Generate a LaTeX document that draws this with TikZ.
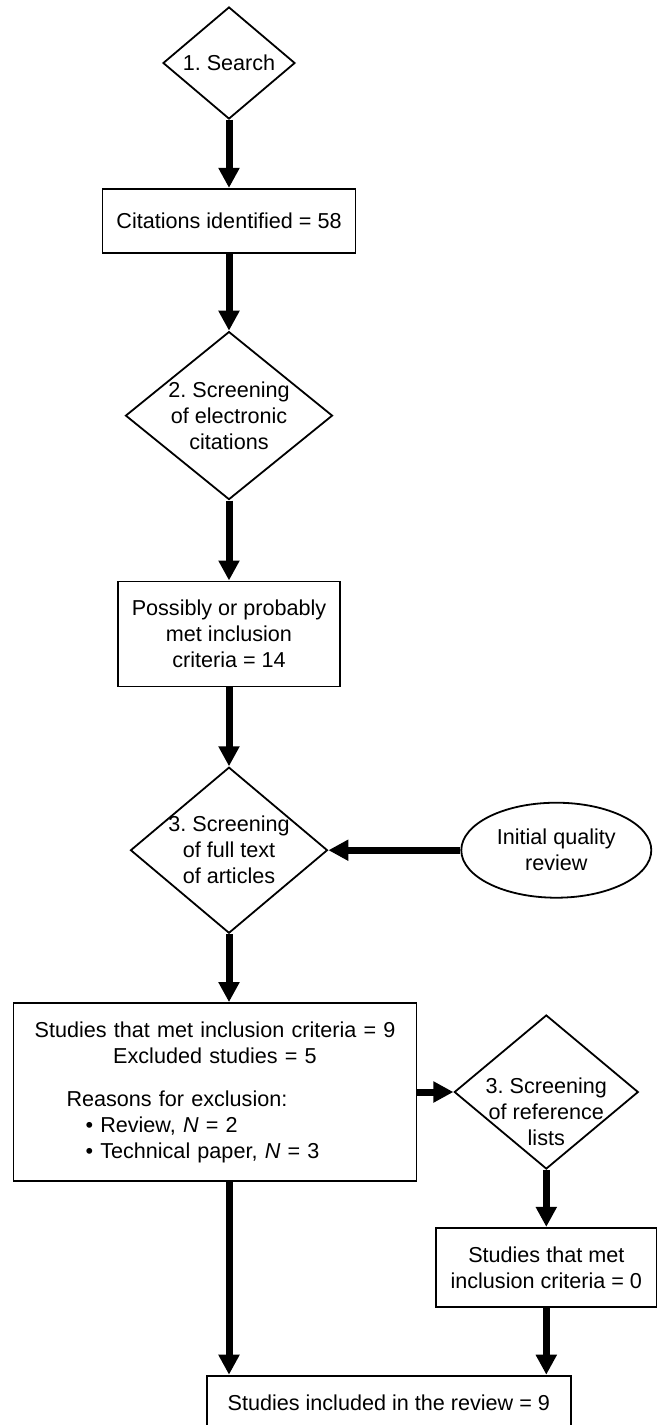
\documentclass[tikz,border=0pt]{standalone}
\usepackage{fontspec}
\setmainfont{Liberation Sans}
\frenchspacing
\usetikzlibrary{arrows.meta,positioning,shapes.geometric}

\begin{document}
\begin{tikzpicture}[
  font=\fontsize{10.8pt}{13pt}\selectfont,
  bx/.style={draw, line width=0.9pt, align=center, inner sep=0pt},
  dec/.style={draw, diamond, line width=0.9pt, align=center, inner sep=-6pt},
  oval/.style={draw, ellipse, line width=0.9pt, align=center, inner sep=0pt},
  ar/.style={line width=3.5pt, -{Triangle[length=10pt,width=10pt]}}]
\useasboundingbox (0,0) rectangle (328.5pt,-712.5pt);
\node[dec, minimum width=66pt, minimum height=56pt] (srch) at (114.5pt,-31.5pt) {1. Search};
\node[bx, minimum width=126.5pt, minimum height=32pt, below=34pt of srch] (cit) {Citations identified = 58};
\node[dec, minimum width=103.5pt, minimum height=84pt, below=38.5pt of cit] (elec) {2. Screening\\of electronic\\citations};
\node[bx, minimum width=111pt, minimum height=52.5pt, below=40pt of elec] (poss) {Possibly or probably\\met inclusion\\criteria = 14};
\node[dec, minimum width=98.5pt, minimum height=83pt, below=39.5pt of poss] (fulltext) {3. Screening\\of full text\\of articles};
\node[oval, minimum width=95pt, minimum height=47.5pt, right=66pt of fulltext] (qual) {Initial quality\\review};
\node[bx, text width=189.5pt, inner xsep=6pt, minimum height=89pt, align=left,
      below=34pt of fulltext, xshift=-7pt] (incl) {\parindent=0pt\parskip=0pt
  \centering Studies that met inclusion criteria = 9\\
  Excluded studies = 5\par
  \vspace{8.5pt}\raggedright
  \hspace*{20.5pt}Reasons for exclusion:\\
  \hspace*{30pt}\textbullet{} Review, \textit{N} = 2\\
  \hspace*{30pt}\textbullet{} Technical paper, \textit{N} = 3\par};
\node[dec, minimum width=92pt, minimum height=77pt, text height=54pt, inner ysep=-18pt,
      right=18pt of incl] (reflist) {3. Screening\\of reference\\lists};
\node[bx, minimum width=110.5pt, minimum height=39.5pt, below=28.5pt of reflist] (zero) {Studies that met\\inclusion criteria = 0};
\node[bx, minimum width=182pt, minimum height=27pt, below=33.5pt of zero, xshift=-78.75pt] (final) {Studies included in the review = 9};
\draw[ar] (srch) -- (cit);
\draw[ar] (cit) -- (elec);
\draw[ar] (elec) -- (poss);
\draw[ar] (poss) -- (fulltext);
\draw[ar] (qual) -- (fulltext);
\draw[ar] (fulltext.south) -- (fulltext.south |- incl.north);
\draw[ar] (incl) -- (reflist);
\draw[ar] (reflist) -- (zero);
\draw[ar] (fulltext.south |- incl.south) -- (fulltext.south |- final.north);
\draw[ar] (zero) -- (zero |- final.north);
\end{tikzpicture}
\end{document}
